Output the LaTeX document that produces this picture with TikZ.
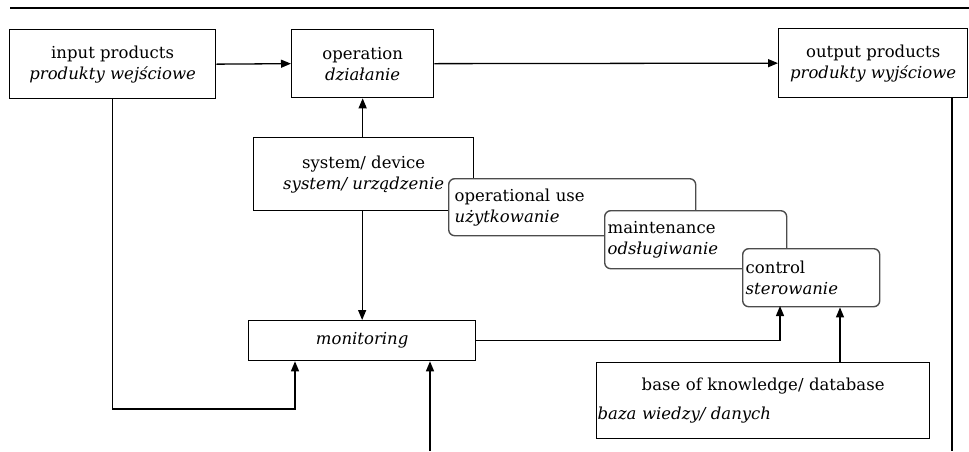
\documentclass[tikz,border=0pt]{standalone}
\usepackage{fontspec}
\setmainfont{DejaVu Serif}
\usetikzlibrary{arrows.meta}
\begin{document}
\begin{tikzpicture}[x=1pt,y=-1pt,
  every node/.style={font=\fontsize{16.5}{21}\selectfont},
  box/.style={draw, line width=1.3pt, fill=white, anchor=north west, inner sep=0pt, align=center},
  rbox/.style={draw=black!70, line width=1.4pt, fill=white, rounded corners=6pt, anchor=north west, inner sep=0pt},
  arr/.style={line width=1.3pt, -{Triangle[length=10pt,width=8pt]}},
  ln/.style={line width=1.3pt}]
\useasboundingbox (0,0) rectangle (969,451);
\draw[ln] (10,8) -- (969,8);
\node[box, minimum width=206, minimum height=69] (in) at (9,29) {input products\\\itshape produkty wejściowe};
\node[box, minimum width=142, minimum height=68] (op) at (291,29) {operation\\\itshape działanie};
\node[box, minimum width=189, minimum height=69] (out) at (778,28) {output products\\\itshape produkty wyjściowe};
\node[box, minimum width=220, minimum height=73] (sys) at (253,137) {system/ device\\\itshape system/ urządzenie};
\node[rbox, minimum width=247, minimum height=57, text width=235, inner xsep=6pt, align=left] (use) at (448,178) {operational use\\\itshape użytkowanie};
\node[rbox, minimum width=182, minimum height=58, text width=176, inner xsep=3pt, align=left] (mnt) at (604,210) {maintenance\\\itshape odsługiwanie};
\node[rbox, minimum width=137, minimum height=58, text width=131, inner xsep=3pt, align=left] (ctl) at (742,248) {control\\\itshape sterowanie};
\node[box, minimum width=227, minimum height=40] (mon) at (248,320) {\itshape monitoring};
\node[box, minimum width=333, minimum height=76, text width=331, inner xsep=1pt] (db) at (596,362) {{\centering base of knowledge/ database\par}\vspace{8pt}{\raggedright\itshape baza wiedzy/ danych\par}};
\coordinate (c1) at (295,409);
\coordinate (c2) at (430,451);
\coordinate (c3) at (780,306);
\coordinate (c4) at (840,362);
\coordinate (c5) at (952,451);
\draw[arr] (in.east) -- (op.west);
\draw[arr] (op.east) -- (out.west);
\draw[arr] (op.south |- sys.north) -- (op.south);
\draw[arr] (mon.north |- sys.south) -- (mon.north);
\draw[arr] (in.south) |- (c1) -- (c1 |- mon.south);
\draw[arr] (c2) -- (c2 |- mon.south);
\draw[arr] (mon.east) -| (c3);
\draw[arr] (c4) -- (c4 |- ctl.south);
\draw[ln] (c5 |- out.south) -- (c5);
\end{tikzpicture}
\end{document}
